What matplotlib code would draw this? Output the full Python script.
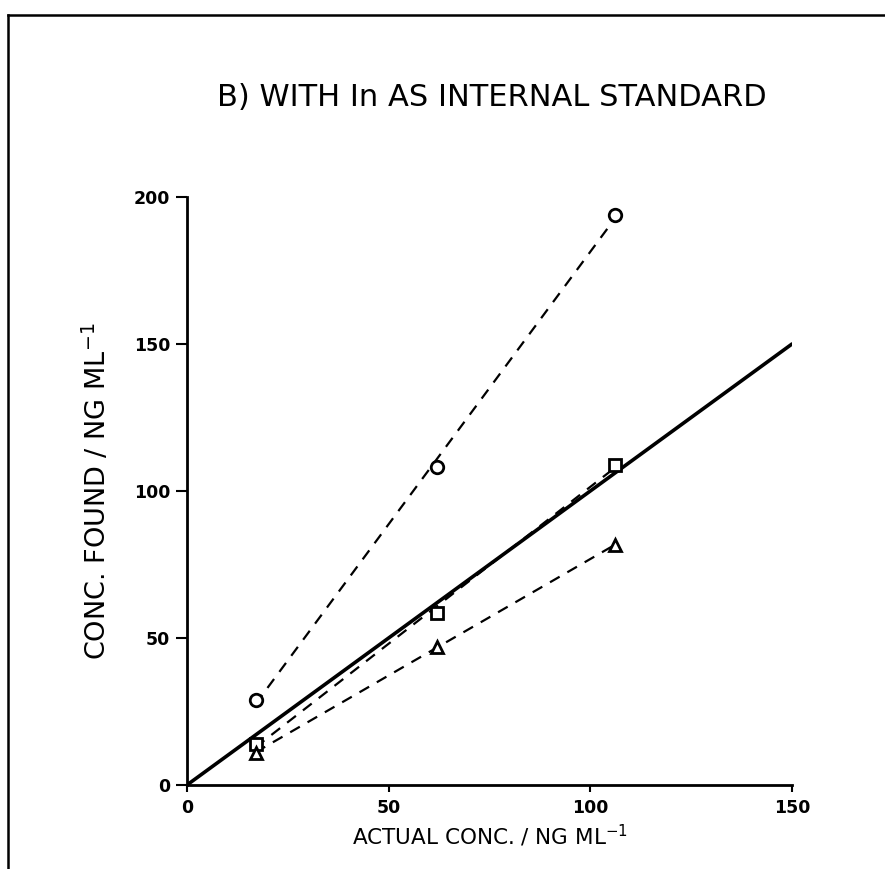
import matplotlib.pyplot as plt
import numpy as np
from matplotlib.lines import Line2D

# ------------------ datos ------------------
actual = [17, 62, 106]
found_circle = [29, 108, 194]
found_square = [14, 58.5, 109]
found_triangle = [11, 47, 81.5]
ideal_x = [0, 150]
ideal_y = [0, 150]

xticks = [0, 50, 100, 150]
yticks = [0, 50, 100, 150, 200]

fig = plt.figure(figsize=(8.85, 8.69), dpi=100)
ax = fig.add_axes([0.2113, 0.0967, 0.6836, 0.6766])

# recta ideal y = x
ax.plot(ideal_x, ideal_y, color="black", lw=2.6, solid_capstyle="round")

# rectas de ajuste (discontinuas) y puntos
series = [(found_circle, "o", 9), (found_square, "s", 9), (found_triangle, "^", 8)]
xa = np.array(actual, dtype=float)
for ys, mk, ms in series:
    m, b = np.polyfit(xa, ys, 1)
    xf = np.array([xa[0], xa[-1]])
    ax.plot(xf, m * xf + b, color="black", lw=1.6, dashes=(5, 4))
    ax.plot(actual, ys, linestyle="none", marker=mk, ms=ms, mfc="white",
            mec="black", mew=2, zorder=5)

ax.set_xlim(0, 150)
ax.set_ylim(0, 200)
ax.set_xticks(xticks)
ax.set_yticks(yticks)
for s in ["top", "right"]:
    ax.spines[s].set_visible(False)
for s in ["left", "bottom"]:
    ax.spines[s].set_linewidth(2)
ax.tick_params(axis="y", direction="out", length=8, width=1.5, pad=4,
               labelsize=12.5)
ax.tick_params(axis="x", direction="out", length=5, width=1.5, pad=5,
               labelsize=12.5)
for lab in ax.get_xticklabels() + ax.get_yticklabels():
    lab.set_fontweight("bold")

ax.set_xlabel("ACTUAL CONC. / NG ML$^{-1}$", fontsize=15.5, labelpad=4)
ax.set_ylabel("CONC. FOUND / NG ML$^{-1}$", fontsize=19.5, labelpad=16)

fig.text(0.556, 0.888, "B) WITH In AS INTERNAL STANDARD", ha="center",
         va="center", fontsize=22)

# marco del recorte original
fig.add_artist(Line2D([0.009, 1.0], [0.983, 0.983], color="black", lw=1.8,
                      transform=fig.transFigure))
fig.add_artist(Line2D([0.009, 0.009], [0.0, 0.983], color="black", lw=1.8,
                      transform=fig.transFigure))

fig.savefig("out.png", dpi=100)
